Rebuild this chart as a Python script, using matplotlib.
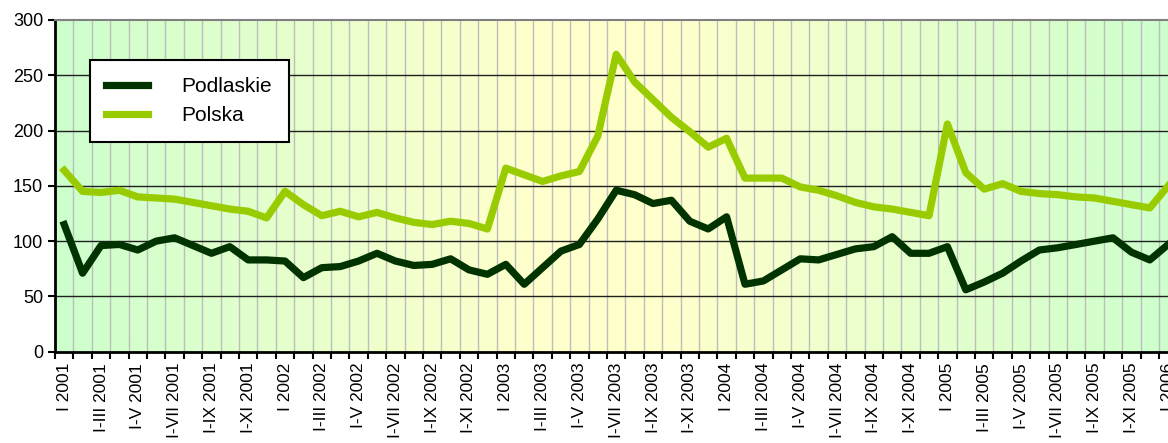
import numpy as np
import matplotlib
matplotlib.use("Agg")
import matplotlib.pyplot as plt
from matplotlib.colors import LinearSegmentedColormap

plt.rcParams["font.family"] = ["Liberation Sans", "DejaVu Sans"]

# monthly values, I 2001 .. I 2006
podlaskie = [115, 71, 96, 97, 92, 100, 103, 96, 89, 95, 83, 83,
             82, 67, 76, 77, 82, 89, 82, 78, 79, 84, 74, 70,
             79, 61, 76, 91, 97, 120, 146, 142, 134, 137, 118, 111,
             122, 61, 64, 74, 84, 83, 88, 93, 95, 104, 89, 89,
             95, 56, 63, 71, 82, 92, 94, 97, 100, 103, 90, 83,
             97]
polska = [164, 145, 144, 146, 140, 139, 138, 135, 132, 129, 127, 121,
          145, 133, 123, 127, 122, 126, 121, 117, 115, 118, 116, 111,
          166, 160, 154, 159, 163, 195, 269, 244, 228, 212, 199, 185,
          193, 157, 157, 157, 149, 146, 141, 135, 131, 129, 126, 123,
          206, 162, 147, 152, 145, 143, 142, 140, 139, 136, 133, 130,
          150]
months = ["I", "I-III", "I-V", "I-VII", "I-IX", "I-XI"]
years = [2001, 2002, 2003, 2004, 2005, 2006]
tick_labels = [f"{m} {y}" for y in years for m in months][:31]

n = len(podlaskie)
x = np.arange(n)

fig = plt.figure(figsize=(11.68, 4.43), dpi=100)
W, H = 1168, 443
left, right, top, bottom = 55, 55 + 61 * 18.4, 20, 351.7
ax = fig.add_axes([left / W, (H - bottom) / H, (right - left) / W, (bottom - top) / H])

# background gradient green -> yellow -> green
cmap = LinearSegmentedColormap.from_list(
    "bg", [(0, "#ccffcc"), (0.42, "#ffffcc"), (0.55, "#ffffcc"), (1, "#ccffcc")])
grad = np.linspace(0, 1, 512).reshape(1, -1)
ax.imshow(grad, cmap=cmap, aspect="auto", extent=[0, 1, 0, 1],
          transform=ax.transAxes, zorder=0)

ax.set_xlim(-0.5, n - 0.5)
ax.set_ylim(0, 300)

# grid
ax.set_xticks(np.arange(-0.5, n, 1))
ax.set_xticklabels([])
ax.set_xticks(np.arange(0, n, 2), minor=True)
ax.set_xticklabels(tick_labels, minor=True, rotation=90, fontsize=12.5)
ax.tick_params(axis="x", which="major", length=5, width=1.5, direction="out")
ax.tick_params(axis="x", which="minor", length=0, pad=8)
ax.set_yticks(np.arange(0, 301, 50))
ax.tick_params(axis="y", length=5, width=1.5, labelsize=13)
for xv in np.arange(-0.5, n, 1):
    ax.axvline(xv, color="#bdbdbd", lw=1, zorder=1)
for yv in range(50, 300, 50):
    ax.axhline(yv, color="#202020", lw=1, zorder=1)

ax.plot(x, podlaskie, color="#003300", lw=5.2, label="Podlaskie",
        solid_joinstyle="round", zorder=3, clip_on=False)
ax.plot(x, polska, color="#99cc00", lw=5.2, label="Polska",
        solid_joinstyle="round", zorder=3, clip_on=False)

for s in ["left", "bottom"]:
    ax.spines[s].set_linewidth(2)
    ax.spines[s].set_color("black")
ax.spines["top"].set_color("#808080")
ax.spines["top"].set_linewidth(1.5)
ax.spines["right"].set_visible(False)

leg = ax.legend(loc="upper left", bbox_to_anchor=(0.031, 0.879), borderaxespad=0,
                fontsize=15, handlelength=2.0, handletextpad=1.6,
                borderpad=0.8, labelspacing=0.5, fancybox=False, framealpha=1)
leg.get_frame().set_edgecolor("black")
leg.get_frame().set_linewidth(1.5)
leg.set_zorder(5)

fig.savefig("out.png", dpi=100)
